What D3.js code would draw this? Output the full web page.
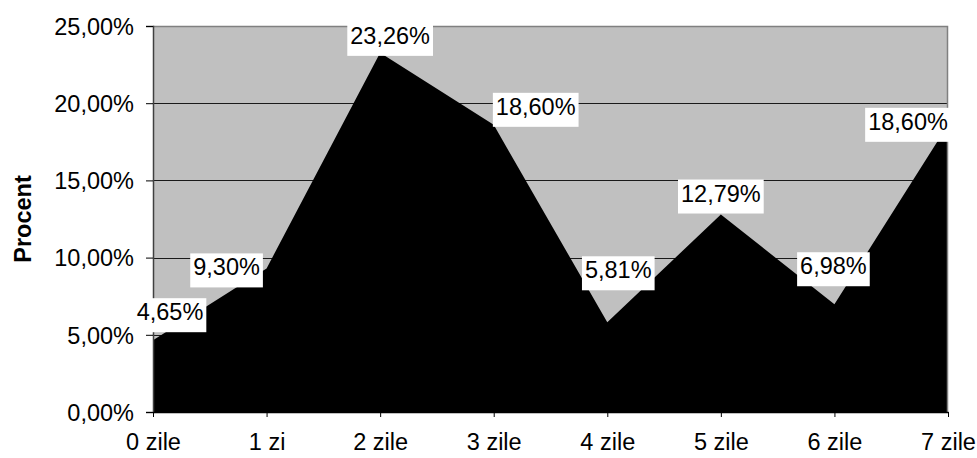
<!DOCTYPE html>
<html>
<head>
<meta charset="utf-8">
<script src="https://cdn.jsdelivr.net/npm/d3@7"></script>
<style>
  html, body { margin: 0; padding: 0; background: #fff; }
  svg { display: block; font-family: "Liberation Sans", Arial, sans-serif; }
</style>
</head>
<body>
<svg id="chart" width="977" height="458"></svg>
<script>
// Share of respondents by number of days
const categories = ["0 zile", "1 zi", "2 zile", "3 zile", "4 zile", "5 zile", "6 zile", "7 zile"];
const values = [4.65, 9.30, 23.26, 18.60, 5.81, 12.79, 6.98, 18.60];
const yTicks = [0, 5, 10, 15, 20, 25];
const yTitle = "Procent";

// Label placement nudges (label centre x offset, box bottom offset from point)
const labelNudge = [[17, -8], [-40, 19], [10, 3], [42, 2], [11, -32], [0, -1], [-1, -18], [-40, 17]];

const W = 977, H = 458;
const m = { left: 153, right: W - 948, top: 26, bottom: H - 412 };
const svg = d3.select("#chart");
const fmt = v => v.toFixed(2).replace(".", ",") + "%";

const x = d3.scalePoint().domain(categories).range([m.left, W - m.right]);
const y = d3.scaleLinear().domain([0, 25]).range([H - m.bottom, m.top]);

// plot background
svg.append("rect")
  .attr("x", m.left).attr("y", m.top)
  .attr("width", W - m.left - m.right).attr("height", H - m.top - m.bottom)
  .attr("fill", "#c0c0c0");

// horizontal gridlines
svg.append("g").selectAll("line").data(yTicks.filter(t => t > 0 && t < 25)).join("line")
  .attr("x1", m.left).attr("x2", W - m.right)
  .attr("y1", d => Math.round(y(d)) + 0.5).attr("y2", d => Math.round(y(d)) + 0.5)
  .attr("stroke", "#1a1a1a").attr("stroke-width", 1);

// area
const area = d3.area()
  .x((d, i) => x(categories[i]))
  .y0(y(0))
  .y1(d => y(d));
svg.append("path").datum(values).attr("d", area).attr("fill", "#000");

// top and right frame
svg.append("path")
  .attr("d", `M${m.left},${m.top + 0.5}H${W - m.right - 0.5}V${H - m.bottom}`)
  .attr("fill", "none").attr("stroke", "#808080").attr("stroke-width", 1.5);

// y axis
const yAxis = d3.axisLeft(y).tickValues(yTicks).tickSize(7).tickPadding(12)
  .tickFormat(d => fmt(d));
const gy = svg.append("g").attr("transform", `translate(${m.left},0)`).call(yAxis);
gy.select(".domain").attr("stroke", "#404040").attr("stroke-width", 1.5);
gy.selectAll(".tick line").attr("stroke", "#000");
gy.selectAll(".tick text").attr("font-size", "23.5px").attr("fill", "#000")
  .attr("font-family", "Liberation Sans, Arial, sans-serif").attr("dy", "0.35em");

// x axis
const xAxis = d3.axisBottom(x).tickSize(5).tickPadding(16).tickSizeOuter(0);
const gx = svg.append("g").attr("transform", `translate(0,${H - m.bottom})`).call(xAxis);
gx.select(".domain").attr("stroke", "#000").attr("stroke-width", 1.5);
gx.selectAll(".tick line").attr("stroke", "#000");
gx.selectAll(".tick text").attr("font-size", "23.5px").attr("fill", "#000")
  .attr("font-family", "Liberation Sans, Arial, sans-serif");

// y axis title
svg.append("text")
  .attr("transform", `translate(31,${(m.top + H - m.bottom) / 2}) rotate(-90)`)
  .attr("text-anchor", "middle")
  .attr("font-size", "23.5px").attr("font-weight", "bold")
  .text(yTitle);

// data labels on white boxes
const labels = svg.append("g");
values.forEach((v, i) => {
  const cx = x(categories[i]) + labelNudge[i][0];
  const bottom = y(v) + labelNudge[i][1];
  const g = labels.append("g");
  const t = g.append("text")
    .attr("x", cx).attr("y", bottom - 12)
    .attr("text-anchor", "middle")
    .attr("font-size", "23.5px").attr("fill", "#000")
    .text(fmt(v));
  const w = t.node().getComputedTextLength() + 6;
  g.insert("rect", "text")
    .attr("x", cx - w / 2).attr("y", bottom - 34)
    .attr("width", w).attr("height", 34)
    .attr("fill", "#fff");
});
</script>
</body>
</html>
